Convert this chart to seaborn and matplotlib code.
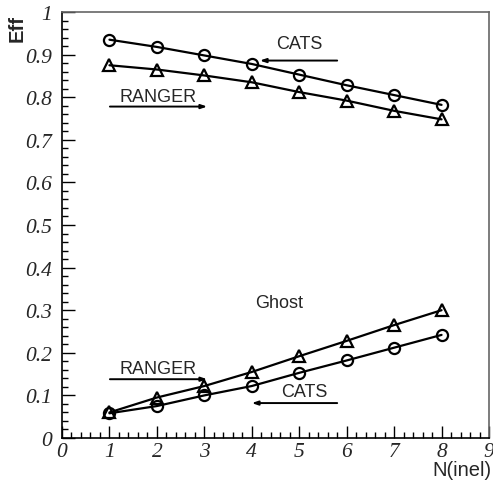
import matplotlib
matplotlib.use("Agg")
import matplotlib.pyplot as plt
from matplotlib.ticker import MultipleLocator, FormatStrFormatter
import numpy as np
import pandas as pd
import seaborn as sns

# Number of inelastic interactions
n_inel = [1, 2, 3, 4, 5, 6, 7, 8]

# Track-finding efficiency
eff_cats = [0.935, 0.918, 0.898, 0.878, 0.853, 0.828, 0.805, 0.782]
eff_ranger = [0.875, 0.865, 0.851, 0.835, 0.812, 0.792, 0.768, 0.748]

# Ghost rate
ghost_cats = [0.058, 0.075, 0.100, 0.122, 0.153, 0.182, 0.212, 0.242]
ghost_ranger = [0.060, 0.095, 0.122, 0.155, 0.192, 0.228, 0.265, 0.300]

frames = []
for name, vals, alg in [("eff_cats", eff_cats, "CATS"),
                        ("eff_ranger", eff_ranger, "RANGER"),
                        ("ghost_cats", ghost_cats, "CATS"),
                        ("ghost_ranger", ghost_ranger, "RANGER")]:
    frames.append(pd.DataFrame({"N": n_inel, "value": vals,
                                "series": name, "alg": alg}))
df = pd.concat(frames, ignore_index=True)

sns.set_style("white")
plt.rcParams["font.family"] = ["Liberation Sans", "DejaVu Sans"]

fig = plt.figure(figsize=(4.93, 4.85), dpi=100)
ax = fig.add_axes([62 / 493, 1 - 439 / 485, 427 / 493, 426 / 485])

marker_map = {"CATS": "o", "RANGER": "^"}
for name, sub in df.groupby("series", sort=False):
    alg = sub["alg"].iloc[0]
    sns.lineplot(data=sub, x="N", y="value", ax=ax, color="black",
                 linewidth=1.6, marker=marker_map[alg], markersize=8,
                 markerfacecolor="none", markeredgecolor="black",
                 markeredgewidth=1.6, legend=False)

ax.set_xlim(0, 9)
ax.set_ylim(0, 1)
ax.xaxis.set_major_locator(MultipleLocator(1))
ax.xaxis.set_minor_locator(MultipleLocator(0.2))
ax.yaxis.set_major_locator(MultipleLocator(0.1))
ax.yaxis.set_minor_locator(MultipleLocator(0.02))
ax.yaxis.set_major_formatter(FormatStrFormatter("%g"))
ax.xaxis.set_major_formatter(FormatStrFormatter("%g"))
ax.tick_params(which="both", direction="in", top=False, right=False,
               bottom=True, left=True, color="black")
ax.tick_params(which="major", length=9, width=1)
ax.tick_params(which="minor", length=4.5, width=1)
for lab in ax.get_xticklabels() + ax.get_yticklabels():
    lab.set_family("Liberation Serif")
    lab.set_style("italic")
    lab.set_fontsize(15.5)
ax.tick_params(axis="x", pad=3)
ax.tick_params(axis="y", pad=7)

for side in ["left", "bottom"]:
    ax.spines[side].set_color("black")
    ax.spines[side].set_linewidth(1.2)
for side in ["top", "right"]:
    ax.spines[side].set_color("#666666")
    ax.spines[side].set_linewidth(1.2)

ax.set_xlabel("")
ax.set_ylabel("")
fig.text(462 / 493, 1 - 471 / 485, "N(inel)", fontsize=14.5,
         ha="center", va="center")
fig.text(17 / 493, 1 - 28 / 485, "Eff", fontsize=14.5, fontweight="bold",
         rotation=90, ha="center", va="center")

arrow_kw = dict(arrowstyle="-|>,head_length=0.35,head_width=0.12",
                color="black", lw=1.4, shrinkA=0, shrinkB=0)
txt_kw = dict(fontsize=13, ha="center", va="center")

# Efficiency labels
ax.text(5.0, 0.927, "CATS", **txt_kw)
ax.annotate("", xy=(4.17, 0.886), xytext=(5.80, 0.886), arrowprops=arrow_kw)
ax.text(2.02, 0.802, "RANGER", **txt_kw)
ax.annotate("", xy=(3.06, 0.778), xytext=(1.01, 0.778), arrowprops=arrow_kw)

# Ghost labels
ax.text(4.57, 0.318, "Ghost", **txt_kw)
ax.text(2.02, 0.164, "RANGER", **txt_kw)
ax.annotate("", xy=(3.06, 0.138), xytext=(1.01, 0.138), arrowprops=arrow_kw)
ax.text(5.1, 0.108, "CATS", **txt_kw)
ax.annotate("", xy=(4.0, 0.082), xytext=(5.80, 0.082), arrowprops=arrow_kw)

fig.savefig("out.png", dpi=100)
